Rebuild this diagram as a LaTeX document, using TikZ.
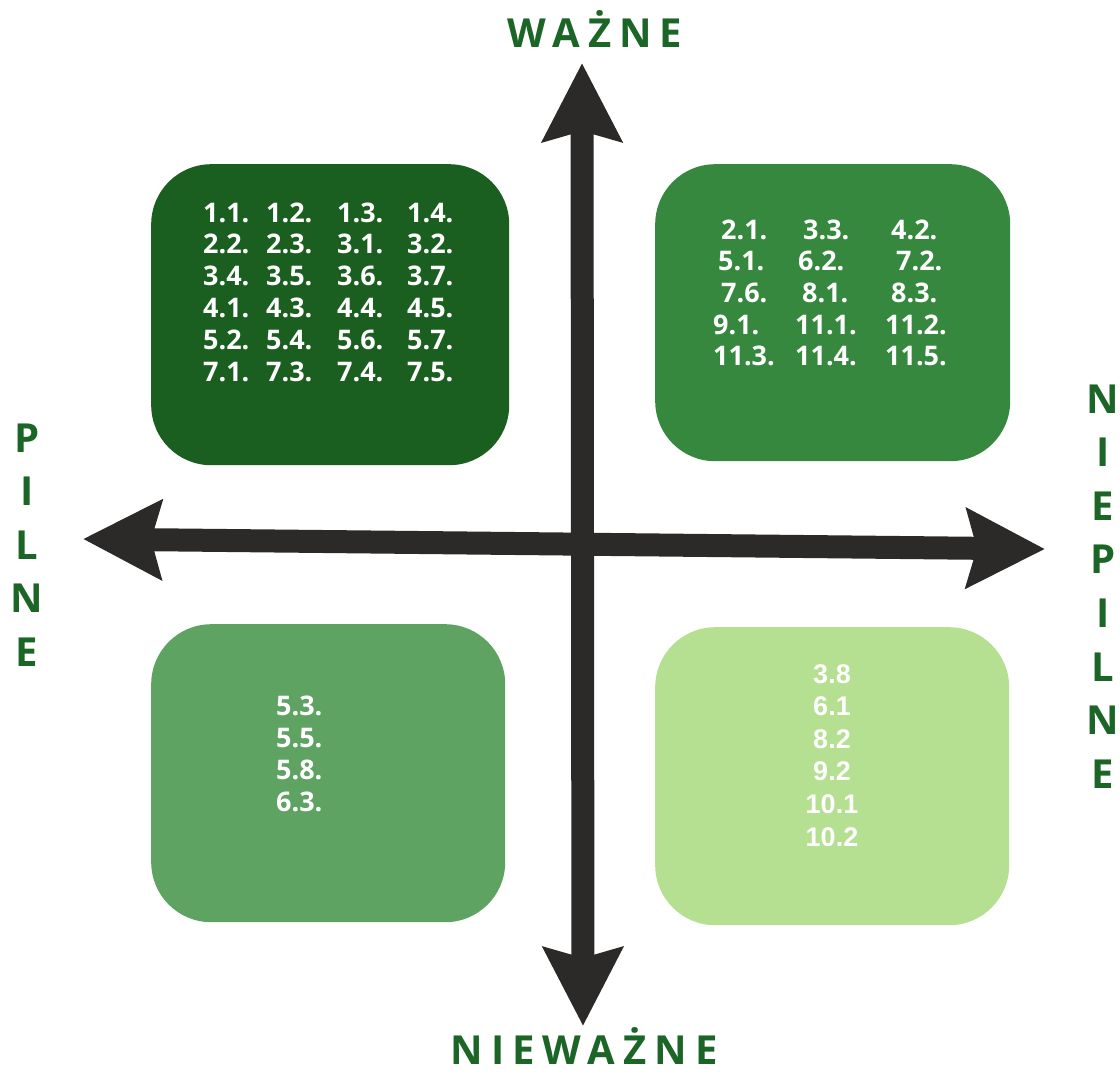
\documentclass[tikz,border=0pt]{standalone}
\usepackage{fontspec}
\setmainfont{Open Sans}
\newfontfamily\arialfont{Liberation Sans}
\newfontfamily\labelfont{Open Sans}[LetterSpace=20]
\usetikzlibrary{arrows.meta}

\definecolor{labelgreen}{HTML}{1B6526}
\definecolor{tlgreen}{HTML}{1A5E20}
\definecolor{trgreen}{HTML}{35883D}
\definecolor{blgreen}{HTML}{5EA362}
\definecolor{brgreen}{HTML}{B5DF91}
\definecolor{axisgray}{HTML}{2B2A28}

\tikzset{
  quad/.style={rectangle, rounded corners=60pt, inner sep=0pt, anchor=north west},
  item/.style={text=white, font=\fontsize{27}{32}\selectfont\bfseries, inner sep=0pt, anchor=base west},
  toplabel/.style={text=labelgreen, font=\labelfont\fontsize{40}{40}\selectfont\bfseries, inner sep=0pt, anchor=base},
  sidelabel/.style={text=labelgreen, font=\fontsize{40}{40}\selectfont\bfseries, inner sep=0pt, anchor=base},
  tip/.tip={Stealth[length=78pt, width=78pt, inset=10pt]},
  axis/.style={line width=23pt, draw=axisgray, tip-tip}
}

\begin{document}
\begin{tikzpicture}[x=1pt, y=-1pt]
    \useasboundingbox (0,0) rectangle (1120,1072);

    % Four quadrants
    \node[quad, fill=tlgreen, minimum width=358pt, minimum height=301pt] (tlbox) at (151,164) {};
    \node[quad, fill=trgreen, minimum width=355pt, minimum height=297pt] (trbox) at (655,164) {};
    \node[quad, fill=blgreen, minimum width=354pt, minimum height=298pt] (blbox) at (151,624) {};
    \node[quad, fill=brgreen, minimum width=354pt, minimum height=298pt] (brbox) at (655,627) {};

    % Top left: important and urgent
    \foreach \a/\b/\c/\d [count=\r from 0] in {1.1./1.2./1.3./1.4., 2.2./2.3./3.1./3.2.,
        3.4./3.5./3.6./3.7., 4.1./4.3./4.4./4.5., 5.2./5.4./5.6./5.7., 7.1./7.3./7.4./7.5.} {
      \node[item] (tl-\r-1) at (203, {222+31.9*\r}) {\a};
      \node[item] (tl-\r-2) at (266, {222+31.9*\r}) {\b};
      \node[item] (tl-\r-3) at (337, {222+31.9*\r}) {\c};
      \node[item] (tl-\r-4) at (407, {222+31.9*\r}) {\d};
    }

    % Top right: important, not urgent
    \foreach \lab/\x/\y [count=\i] in {2.1./721/239, 3.3./803/239, 4.2./891/239,
        5.1./718/270.7, 6.2./798/270.7, 7.2./896/270.7,
        7.6./721/302.3, 8.1./802/302.3, 8.3./891/302.3,
        9.1./713/334, 11.1./795/334, 11.2./885/334,
        11.3./713/365.7, 11.4./795/365.7, 11.5./885/365.7} {
      \node[item] (tr-\i) at (\x,\y) {\lab};
    }

    % Bottom left: urgent, not important
    \foreach \lab [count=\i from 0] in {5.3., 5.5., 5.8., 6.3.} {
      \node[item] (bl-\i) at (276, {715+32*\i}) {\lab};
    }

    % Bottom right: neither
    \foreach \lab [count=\i from 0] in {3.8, 6.1, 8.2, 9.2, 10.1, 10.2} {
      \node[item, anchor=base, font=\arialfont\fontsize{27}{32}\selectfont\bfseries] (br-\i) at (832, {683+32.6*\i}) {\lab};
    }

    % Axes
    \coordinate (up) at (582,63);
    \coordinate (down) at (583,1026);
    \coordinate (west) at (83,539);
    \coordinate (east) at (1045,549);
    \draw[axis] (down) -- (up);
    \draw[axis] (west) -- (east);

    % Axis labels
    \node[toplabel] (wazne) at (595,47) {WAŻNE};
    \node[toplabel] (niewazne) at (584,1064) {NIEWAŻNE};
    \foreach \ch [count=\i from 0] in {P,I,L,N,E} {
      \node[sidelabel] (pilne-\i) at (27, {452+53.6*\i}) {\ch};
    }
    \foreach \ch [count=\i from 0] in {N,I,E,P,I,L,N,E} {
      \node[sidelabel] (niepilne-\i) at (1103, {413+53.6*\i}) {\ch};
    }
\end{tikzpicture}
\end{document}
